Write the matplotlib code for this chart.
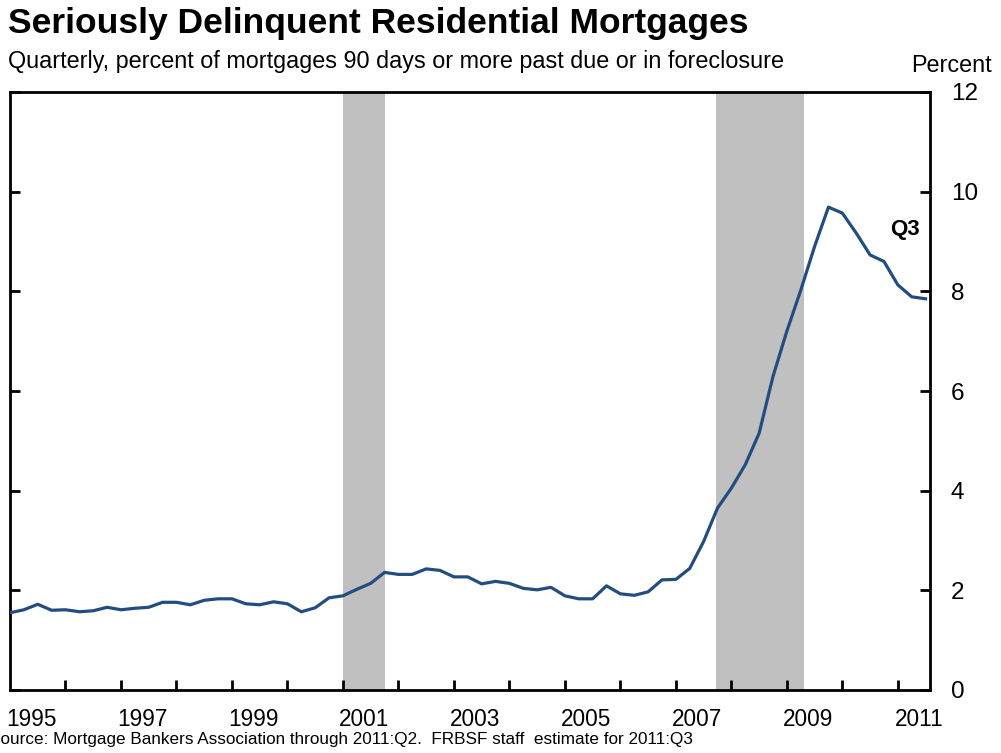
import matplotlib
matplotlib.use("Agg")
import matplotlib.pyplot as plt
import numpy as np

plt.rcParams['font.family'] = ['Liberation Sans', 'DejaVu Sans']

# quarterly, 1995:Q1 .. 2011:Q3 (percent)
start_year = 1995
delinquent = [
    1.55, 1.61, 1.72, 1.60, 1.61, 1.57, 1.59, 1.66,
    1.61, 1.64, 1.66, 1.76, 1.76, 1.71, 1.80, 1.83,
    1.83, 1.73, 1.71, 1.77, 1.73, 1.57, 1.65, 1.85,
    1.89, 2.02, 2.14, 2.36, 2.32, 2.32, 2.43, 2.40,
    2.27, 2.27, 2.13, 2.18, 2.14, 2.04, 2.01, 2.06,
    1.89, 1.83, 1.83, 2.09, 1.93, 1.90, 1.97, 2.21,
    2.22, 2.44, 2.98, 3.65, 4.05, 4.52, 5.15, 6.29,
    7.20, 8.02, 8.90, 9.69, 9.57, 9.17, 8.73, 8.60,
    8.13, 7.89, 7.85,
]
recessions = [(2001.0, 2001.75), (2007.72, 2009.31)]
year_labels = [1995, 1997, 1999, 2001, 2003, 2005, 2007, 2009, 2011]
y_ticks = [0, 2, 4, 6, 8, 10, 12]

t = start_year + np.arange(len(delinquent)) / 4.0

fig = plt.figure(figsize=(10.01, 7.53), dpi=100)
ax = fig.add_axes([10 / 1001, 1 - 690 / 753, 920 / 1001, 598 / 753])

for a, b in recessions:
    ax.axvspan(a, b, color="#c0c0c0", lw=0, zorder=0)

ax.plot(t, delinquent, color="#234d80", lw=2.3, zorder=3)

ax.set_xlim(1995.0, 2011.58)
ax.set_ylim(0, 12)

# year boundary ticks, labels in between
ax.set_xticks(np.arange(1996, 2012))
ax.set_xticklabels([])
ax.tick_params(axis="x", direction="in", length=7, width=2, top=False)
for yr in year_labels:
    ax.text(yr + 0.38, -0.6, str(yr), ha="center", va="center", fontsize=16.3)

ax.set_yticks(y_ticks)
ax.yaxis.tick_right()
ax.tick_params(axis="y", direction="in", length=7, width=2, left=True, right=True,
               labelleft=False, labelright=True, labelsize=17.5, pad=15)
for s in ax.spines.values():
    s.set_linewidth(2)

ax.text(2011.13, 9.24, "Q3", fontsize=16, fontweight="bold", ha="center", va="center")

fig.text(8 / 1001, 1 - 33 / 753, "Seriously Delinquent Residential Mortgages",
         fontsize=25.5, fontweight="bold", ha="left", va="baseline")
fig.text(8 / 1001, 1 - 68 / 753,
         "Quarterly, percent of mortgages 90 days or more past due or in foreclosure",
         fontsize=16.8, ha="left", va="baseline")
fig.text(992 / 1001, 1 - 72 / 753, "Percent", fontsize=16.8, ha="right", va="baseline")
fig.text(-11 / 1001, 1 - 744 / 753,
         "Source: Mortgage Bankers Association through 2011:Q2.  FRBSF staff  estimate for 2011:Q3",
         fontsize=12.3, ha="left", va="baseline")

fig.savefig("out.png", dpi=100)
